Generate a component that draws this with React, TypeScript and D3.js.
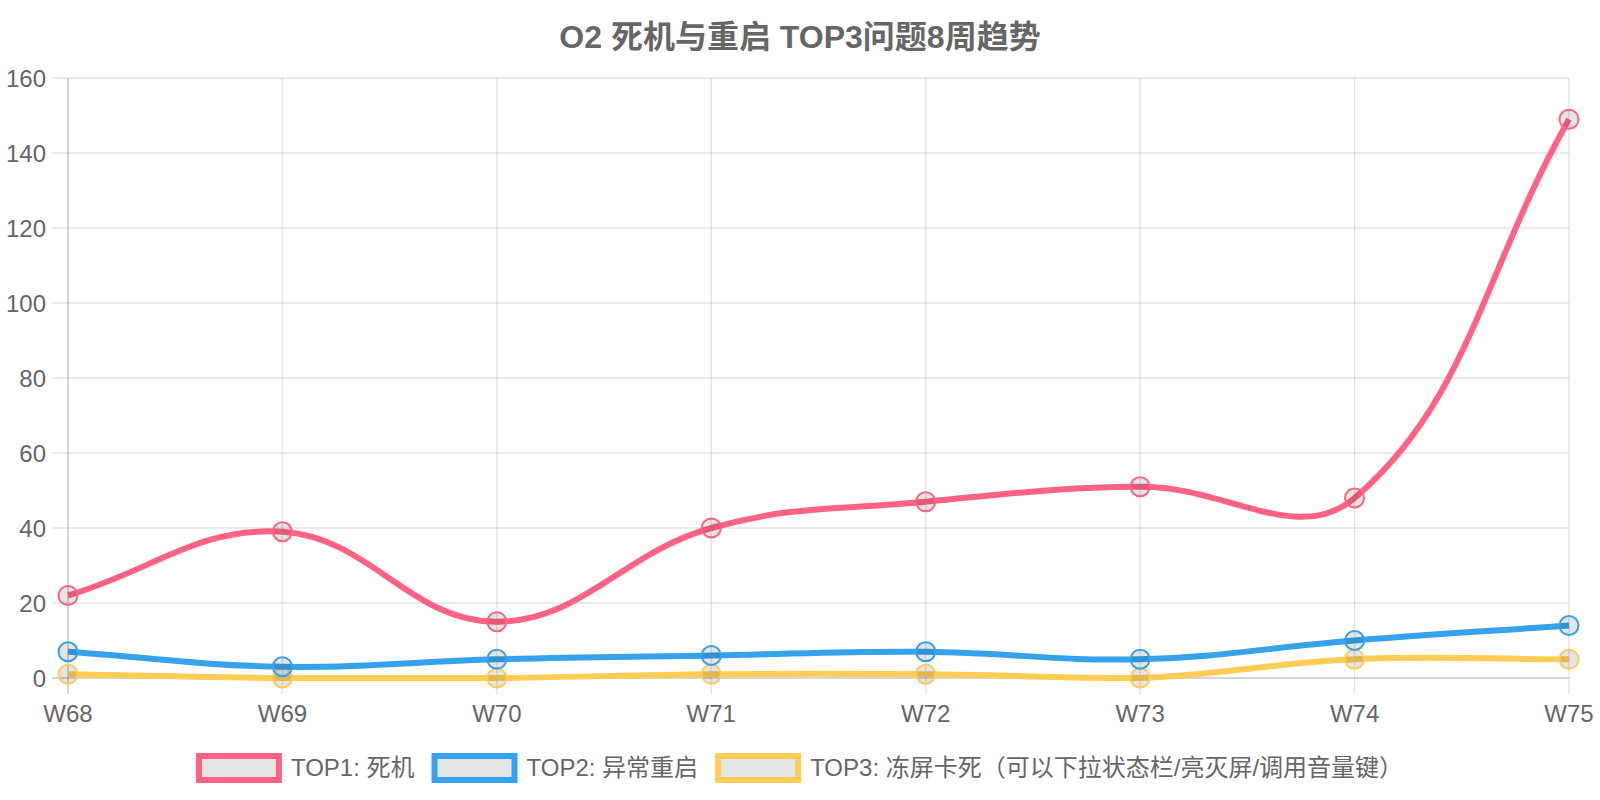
import React, { useMemo } from "react";
import * as d3 from "d3";

const weeks = ["W68", "W69", "W70", "W71", "W72", "W73", "W74", "W75"];
const top1Values = [22, 39, 15, 40, 47, 51, 48, 149];
const top2Values = [7, 3, 5, 6, 7, 5, 10, 14];
const top3Values = [1, 0, 0, 1, 1, 0, 5, 5];
const seriesNames = ["TOP1: 死机", "TOP2: 异常重启", "TOP3: 冻屏卡死（可以下拉状态栏/亮灭屏/调用音量键）"];
const seriesColors = ["#ff6384", "#36a2eb", "#ffcd56"];
const yTicks = [0, 20, 40, 60, 80, 100, 120, 140, 160];
const titleText = "O2 死机与重启 TOP3问题8周趋势";

const W = 1600;
const H = 800;
const FONT = "'Liberation Sans', Arial, 'Noto Sans CJK SC', sans-serif";
const TEXT = "#666";

const left = 68, right = 1569, top = 78, bottom = 678;

type P = { x: number; y: number };

function splinePath(pts: P[], t: number): string {
  const path = d3.path();
  const cps = pts.map((cur, i) => {
    const prev = i > 0 ? pts[i - 1] : cur;
    const next = i < pts.length - 1 ? pts[i + 1] : cur;
    const d01 = Math.hypot(cur.x - prev.x, cur.y - prev.y);
    const d12 = Math.hypot(next.x - cur.x, next.y - cur.y);
    let s01 = d01 / (d01 + d12);
    let s12 = d12 / (d01 + d12);
    if (!isFinite(s01)) s01 = 0;
    if (!isFinite(s12)) s12 = 0;
    const fa = t * s01, fb = t * s12;
    const clampX = (v: number) => Math.max(left, Math.min(right, v));
    const clampY = (v: number) => Math.max(top, Math.min(bottom, v));
    return {
      p: { x: clampX(cur.x - fa * (next.x - prev.x)), y: clampY(cur.y - fa * (next.y - prev.y)) },
      n: { x: clampX(cur.x + fb * (next.x - prev.x)), y: clampY(cur.y + fb * (next.y - prev.y)) },
    };
  });
  pts.forEach((pt, i) => {
    if (i === 0) path.moveTo(pt.x, pt.y);
    else path.bezierCurveTo(cps[i - 1].n.x, cps[i - 1].n.y, cps[i].p.x, cps[i].p.y, pt.x, pt.y);
  });
  return path.toString();
}

export default function App() {
  const x = d3.scalePoint<string>().domain(weeks).range([left, right]).padding(0);
  const y = d3.scaleLinear().domain([0, 160]).range([bottom, top]);
  const data = [top1Values, top2Values, top3Values];

  const legend = useMemo(() => {
    const ctx = document.createElement("canvas").getContext("2d")!;
    ctx.font = `24px ${FONT}`;
    const widths = seriesNames.map((s) => ctx.measureText(s).width);
    const itemW = widths.map((w) => 80 + 12 + w);
    const total = d3.sum(itemW) + 20 * 2;
    let cx = 800 - total / 2 + 1;
    return itemW.map((w, i) => {
      const r = { x: cx, w };
      cx += w + 20;
      return r;
    });
  }, []);

  const order = [2, 1, 0];

  return (
    <svg width={W} height={H} style={{ position: "absolute", left: 0, top: 0, background: "#fff" }} fontFamily={FONT}>
      <text x={800} y={48} textAnchor="middle" fontSize={32} fontWeight="bold" fill={TEXT}>
        {titleText}
      </text>
      {yTicks.map((v) => (
        <g key={"y" + v}>
          <line x1={left - 16} x2={right} y1={y(v)} y2={y(v)} stroke={v === 0 ? "rgba(0,0,0,0.22)" : "rgba(0,0,0,0.1)"} strokeWidth={1.5} />
          <text x={46} y={y(v) + 8.5} textAnchor="end" fontSize={24} fill={TEXT}>{v}</text>
        </g>
      ))}
      {weeks.map((w, i) => (
        <g key={w}>
          <line x1={x(w)!} x2={x(w)!} y1={top} y2={bottom + 16} stroke={i === 0 ? "rgba(0,0,0,0.22)" : "rgba(0,0,0,0.1)"} strokeWidth={1.5} />
          <text x={x(w)!} y={722} textAnchor="middle" fontSize={24} fill={TEXT}>{w}</text>
        </g>
      ))}
      {order.map((si) => {
        const pts = data[si].map((v, i) => ({ x: x(weeks[i])!, y: y(v) }));
        return (
          <g key={"s" + si}>
            <path d={splinePath(pts, 0.4)} fill="none" stroke={seriesColors[si]} strokeWidth={6} />
            {pts.map((p, i) => (
              <circle key={i} cx={p.x} cy={p.y} r={9.5} fill="rgba(0,0,0,0.1)" stroke={seriesColors[si]} strokeWidth={2} />
            ))}
          </g>
        );
      })}
      {legend.map((l, i) => (
        <g key={"l" + i}>
          <rect x={l.x} y={756} width={80} height={24} fill="rgba(0,0,0,0.1)" stroke={seriesColors[i]} strokeWidth={6} />
          <text x={l.x + 92} y={776} fontSize={24} fill={TEXT}>{seriesNames[i]}</text>
        </g>
      ))}
    </svg>
  );
}
